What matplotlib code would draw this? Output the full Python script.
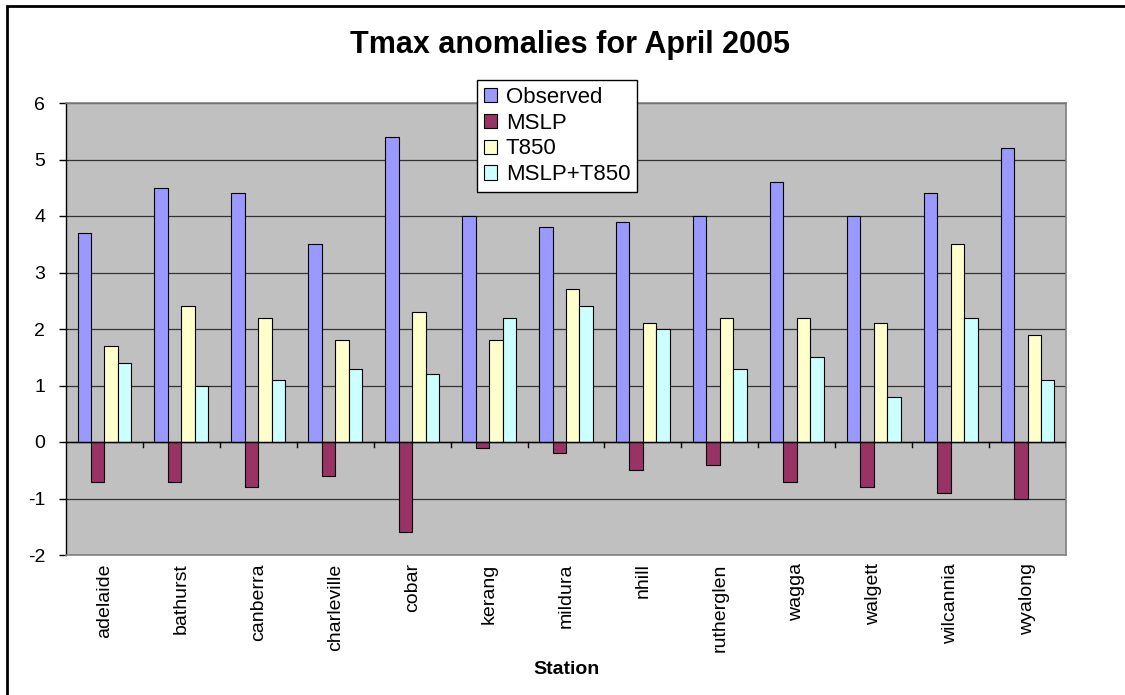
import matplotlib.pyplot as plt
import numpy as np
from matplotlib.patches import Rectangle

stations = ["adelaide", "bathurst", "canberra", "charleville", "cobar", "kerang",
            "mildura", "nhill", "rutherglen", "wagga", "walgett", "wilcannia", "wyalong"]
observed = [3.7, 4.5, 4.4, 3.5, 5.4, 4.0, 3.8, 3.9, 4.0, 4.6, 4.0, 4.4, 5.2]
mslp = [-0.7, -0.7, -0.8, -0.6, -1.6, -0.1, -0.2, -0.5, -0.4, -0.7, -0.8, -0.9, -1.0]
t850 = [1.7, 2.4, 2.2, 1.8, 2.3, 1.8, 2.7, 2.1, 2.2, 2.2, 2.1, 3.5, 1.9]
mslp_t850 = [1.4, 1.0, 1.1, 1.3, 1.2, 2.2, 2.4, 2.0, 1.3, 1.5, 0.8, 2.2, 1.1]

series = [("Observed", observed, "#9999FF"),
          ("MSLP", mslp, "#993366"),
          ("T850", t850, "#FFFFCC"),
          ("MSLP+T850", mslp_t850, "#CCFFFF")]

plt.rcParams['font.family'] = ['Liberation Sans', 'DejaVu Sans']
plt.rcParams['axes.unicode_minus'] = False

fig = plt.figure(figsize=(11.25, 6.95), dpi=100)
ax = fig.add_axes([66 / 1125, 1 - 555 / 695, 1000 / 1125, 452 / 695])
ax.set_facecolor("#C0C0C0")

x = np.arange(len(stations))
w = 0.175
for i, (name, vals, col) in enumerate(series):
    ax.bar(x + (i - 1.5) * w, vals, w, color=col, edgecolor="black",
           linewidth=0.8, label=name, zorder=3)

ax.set_xlim(-0.5, len(stations) - 0.5)
ax.set_ylim(-2, 6)
ax.set_yticks(range(-2, 7))
ax.yaxis.grid(True, color="#333333", linewidth=0.9, zorder=1)
ax.tick_params(axis="y", labelsize=14, length=5, width=1, direction="out", pad=10)

# category axis drawn at zero with tick marks between stations
ax.axhline(0, color="black", linewidth=1, zorder=4)
for b in np.arange(0.5, len(stations) - 0.5, 1.0):
    ax.plot([b, b], [0, -0.09], color="black", linewidth=1, zorder=4, clip_on=False)
ax.plot([len(stations) - 0.5] * 2, [0, -0.09], color="black", linewidth=1, zorder=4)

ax.set_xticks(x)
ax.set_xticklabels(stations, rotation=90, fontsize=14)
ax.tick_params(axis="x", length=0, pad=6)

for side in ["top", "right", "bottom"]:
    ax.spines[side].set_color("#808080")
    ax.spines[side].set_linewidth(1.2)
ax.spines["left"].set_color("black")
ax.spines["left"].set_linewidth(1)

ax.set_xlabel("Station", fontsize=14, fontweight="bold", labelpad=7)
fig.text(570 / 1125, 1 - 45 / 695, "Tmax anomalies for April 2005", ha="center",
         va="center", fontsize=22, fontweight="bold")

leg = ax.legend(loc="upper left", bbox_to_anchor=((477 - 66) / 1000, (555 - 80) / 452),
                frameon=True, fancybox=False, fontsize=16, handlelength=0.6,
                handleheight=0.6, handletextpad=0.4, labelspacing=0.22,
                borderpad=0.3, borderaxespad=0)
leg.get_frame().set_edgecolor("black")
leg.get_frame().set_linewidth(1)
leg.get_frame().set_facecolor("white")
leg.get_frame().set_alpha(1)
leg.set_zorder(10)

# outer chart border
fig.patches.append(Rectangle((7 / 1125, -0.1), 1.2, 1 - 6 / 695 + 0.1,
                             transform=fig.transFigure, fill=False,
                             edgecolor="black", linewidth=2))

fig.savefig("out.png", dpi=100)
